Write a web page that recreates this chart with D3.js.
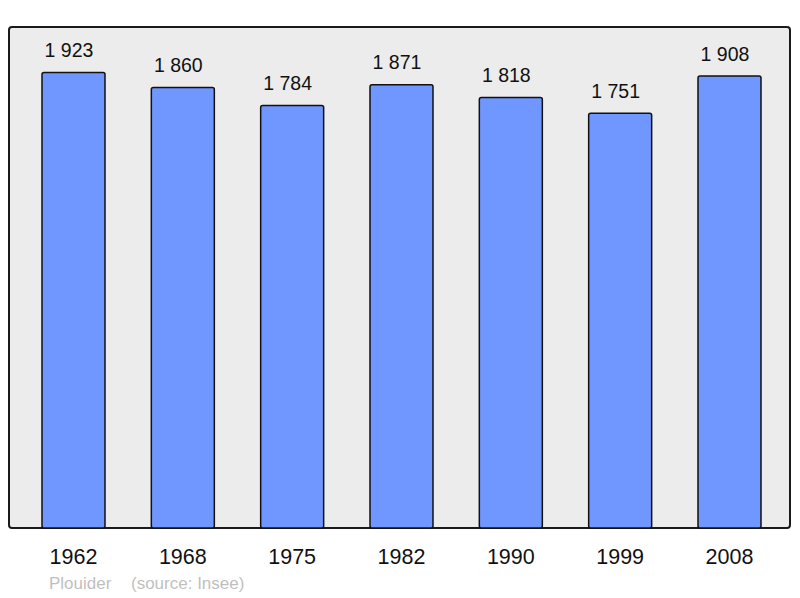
<!DOCTYPE html>
<html><head><meta charset="utf-8">
<script src="https://cdn.jsdelivr.net/npm/d3@7"></script>
<style>body{margin:0;background:#fff}svg{display:block}text{font-family:"Liberation Sans",Arial,sans-serif}</style>
</head><body>
<svg id="c" width="800" height="598"></svg>
<script>
const years = ["1962","1968","1975","1982","1990","1999","2008"];
const population = [1923,1860,1784,1871,1818,1751,1908];
const commune = "Plouider";
const source = "(source: Insee)";

const svg = d3.select("#c");
const base = 528;
const x = d3.scalePoint().domain(years).range([73.5, 729.5]);
const y = d3.scaleLinear().domain([0, d3.max(population)*1.1]).range([base, 27]);
const bw = 63;
const fmt = v => d3.formatLocale({thousands:" ", grouping:[3], decimal:","}).format(",")(v);

svg.append("rect").attr("x",9).attr("y",27).attr("width",781).attr("height",501)
  .attr("rx",3).attr("fill","#ececec").attr("stroke","#1a1a1a").attr("stroke-width",2);

svg.selectAll("rect.bar").data(population).join("rect").attr("class","bar")
  .attr("x",(d,i)=>x(years[i])-bw/2).attr("y",d=>y(d))
  .attr("width",bw).attr("height",d=>base-y(d))
  .attr("rx",2).attr("fill","#7096ff").attr("stroke","#111").attr("stroke-width",1.5);

svg.selectAll("text.val").data(population).join("text").attr("class","val")
  .attr("x",(d,i)=>x(years[i])-4.5).attr("y",d=>y(d)-15.5)
  .attr("text-anchor","middle").attr("font-size",19.5).attr("fill","#111")
  .text(d=>fmt(d));

svg.selectAll("text.yr").data(years).join("text").attr("class","yr")
  .attr("x",d=>x(d)).attr("y",563.5).attr("text-anchor","middle").attr("font-size",21.5).attr("fill","#111")
  .text(d=>d);

svg.append("text").attr("x",49).attr("y",589).attr("font-size",17).attr("fill","#bfbfbf").text(commune);
svg.append("text").attr("x",131).attr("y",589).attr("font-size",17).attr("fill","#bfbfbf").text(source);
</script>
</body></html>
